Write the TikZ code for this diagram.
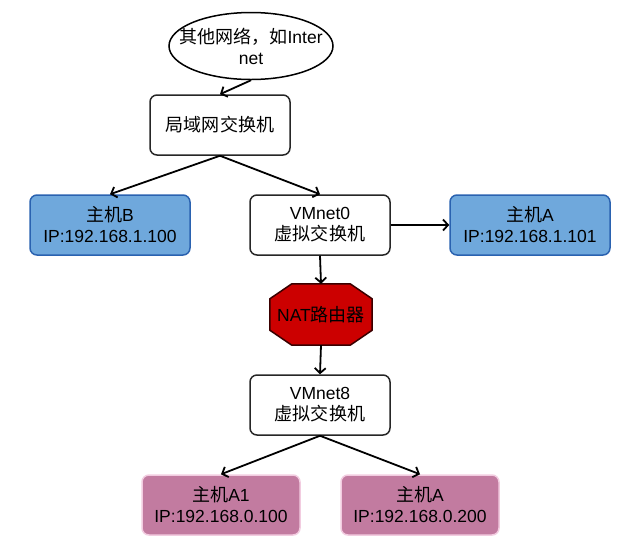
\documentclass[tikz,border=0pt]{standalone}
\usepackage{fontspec}
\setmainfont{Liberation Sans}
\newfontfamily\cjk[Scale=1.03]{Noto Sans CJK SC}
\usetikzlibrary{arrows.meta,shapes.geometric}
\definecolor{hostblue}{HTML}{6FA8DC}
\definecolor{hostblueline}{HTML}{2A62B0}
\definecolor{hostpink}{HTML}{C27BA0}
\definecolor{hostpinkline}{HTML}{F2CCE0}
\definecolor{natred}{HTML}{CC0000}
\definecolor{natline}{HTML}{3A0000}
\tikzset{
  every node/.style={font=\fontsize{17.5}{21}\selectfont, align=center, text=black},
  swbox/.style={draw=black!85, line width=1.5pt, rounded corners=7pt, fill=white, minimum width=140pt, minimum height=60pt, inner sep=0pt},
  bluebox/.style={draw=hostblueline, line width=1.5pt, rounded corners=7pt, fill=hostblue, minimum width=160pt, minimum height=60pt, inner sep=0pt},
  pinkbox/.style={draw=hostpinkline, line width=1.5pt, rounded corners=7pt, fill=hostpink, minimum width=158pt, minimum height=60pt, inner sep=0pt},
  cloud/.style={draw=black, line width=1.5pt, ellipse, fill=white, minimum width=164pt, minimum height=67pt, inner xsep=-14pt, inner ysep=0pt},
  link/.style={draw=black, line width=1.8pt, -{Straight Barb[length=5pt,width=11pt,line width=1.8pt]}}
}
\begin{document}
\begin{tikzpicture}[x=1pt,y=-1pt]
\useasboundingbox (0,0) rectangle (629,550);
\node[cloud] (net) at (251,46) {{\cjk 其他网络，如}Inter\\net};
\node[swbox] (lan) at (220,125) {\cjk 局域网交换机};
\node[bluebox] (hb) at (110,225) {{\cjk 主机}B\\IP:192.168.1.100};
\node[swbox] (vm0) at (320,225) {VMnet0\\{\cjk 虚拟交换机}};
\node[bluebox] (ha) at (530,225) {{\cjk 主机}A\\IP:192.168.1.101};
\node[minimum width=102pt, minimum height=61pt, inner sep=0pt] (nat) at (321,314.5) {};
\draw[fill=natred, draw=natline, line width=1.5pt]
  ([xshift=22pt]nat.north west) -- ([xshift=-22pt]nat.north east)
  -- ([yshift=-15pt]nat.north east) -- ([yshift=15pt]nat.south east)
  -- ([xshift=-22pt]nat.south east) -- ([xshift=22pt]nat.south west)
  -- ([yshift=15pt]nat.south west) -- ([yshift=-15pt]nat.north west) -- cycle;
\node at (nat.center) {NAT{\cjk 路由器}};
\node[swbox] (vm8) at (320,405) {VMnet8\\{\cjk 虚拟交换机}};
\node[pinkbox] (a1) at (221,505) {{\cjk 主机}A1\\IP:192.168.0.100};
\node[pinkbox] (a2) at (420,505) {{\cjk 主机}A\\IP:192.168.0.200};
\draw[link] (net.south) -- (lan.north);
\draw[link] (lan.south) -- (hb.north);
\draw[link] (lan.south) -- (vm0.north);
\draw[link] (vm0.east) -- (ha.west);
\draw[link] (vm0.south) -- (nat.north);
\draw[link] (nat.south) -- (vm8.north);
\draw[link] (vm8.south) -- (a1.north);
\draw[link] (vm8.south) -- (a2.north);
\end{tikzpicture}
\end{document}
